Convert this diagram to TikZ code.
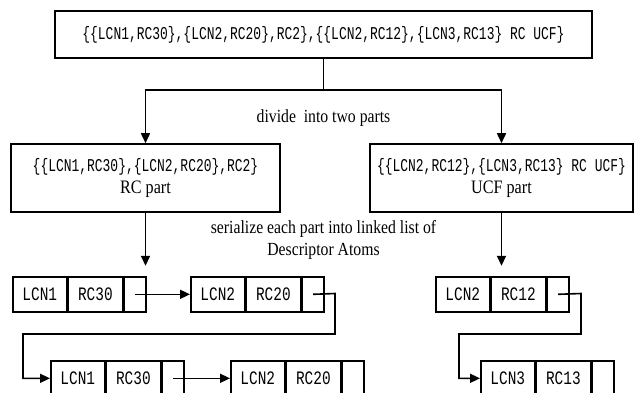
\documentclass[tikz,border=0pt]{standalone}
\usepackage{fontspec}
\setmainfont{Liberation Serif}
\newfontfamily\codefont[FakeStretch=0.72]{Liberation Mono}
\newfontfamily\cellfont[FakeStretch=0.76]{Liberation Mono}
\newfontfamily\prosefont[FakeStretch=0.85]{Liberation Serif}
\usetikzlibrary{arrows.meta}

\tikzset{
  frame/.style={draw, line width=1.6pt, fill=white, inner sep=0pt},
  setbox/.style={frame, align=center},
  cell/.style={frame, minimum height=35pt, anchor=north west,
               font=\cellfont\fontsize{19}{21}\selectfont},
  conn/.style={line width=1.6pt},
  arr/.style={conn, -{Triangle[length=10pt,width=9pt]}},
  prose/.style={font=\prosefont\fontsize{18.5}{22}\selectfont, align=center},
}

% one descriptor atom: two data cells followed by a pointer cell
\newcommand\atom[5]{%
  \node[cell, minimum width=54pt] (#1a) at (#2,#3) {#4};
  \node[cell, minimum width=54pt] (#1b) at (#1a.north east) {#5};
  \node[cell, minimum width=22pt] (#1c) at (#1b.north east) {};
}

\begin{document}
\begin{tikzpicture}[x=1pt, y=-1pt]
  \useasboundingbox (0,0) rectangle (634,392);

  % whole descriptor set
  \node[setbox, minimum width=537pt, minimum height=47pt,
        font=\codefont\fontsize{18}{20}\selectfont] (T) at (323.5,34.5)
    {\{\{LCN1,RC30\},\{LCN2,RC20\},RC2\},\{\{LCN2,RC12\},\{LCN3,RC13\} RC UCF\}};

  % the two parts
  \node[setbox, minimum width=269pt, minimum height=68pt] (L) at (145.5,178)
    {{\codefont\fontsize{18}{20}\selectfont \{\{LCN1,RC30\},\{LCN2,RC20\},RC2\}}\\[5pt]
     {\prosefont\fontsize{19}{21}\selectfont RC part}};
  \node[setbox, minimum width=263pt, minimum height=68pt] (R) at (501.5,178)
    {{\codefont\fontsize{18}{20}\selectfont \{\{LCN2,RC12\},\{LCN3,RC13\} RC UCF\}}\\[5pt]
     {\prosefont\fontsize{19}{21}\selectfont UCF part}};

  % split arrows
  \draw[conn] (T.south) -- (T.south |- 0,90) coordinate (split);
  \draw[arr] (split) -| (L.north);
  \draw[arr] (split) -| (R.north);
  \node[prose] (divide) at (323.5,118) {divide\ \ into two parts};

  % serialization arrows
  \draw[arr] (L.south) -- ++(0,53) coordinate (lend);
  \draw[arr] (R.south) -- ++(0,53) coordinate (rend);
  \node[prose] (serial) at (323.5,240)
    {serialize each part into linked list of\\Descriptor Atoms};

  % linked lists of descriptor atoms
  \atom{p}{12}{276}{LCN1}{RC30}
  \atom{q}{190}{276}{LCN2}{RC20}
  \atom{u}{435}{276}{LCN2}{RC12}
  \atom{s}{50}{360}{LCN1}{RC30}
  \atom{t}{230}{360}{LCN2}{RC20}
  \atom{v}{480}{360}{LCN3}{RC13}

  \draw[arr] (pc.center) -- (qa.west);
  \draw[arr] (qc.center) -- (335,293.5) -- (335,334) -- (23,334) |- (sa.west);
  \draw[arr] (sc.center) -- (ta.west);
  \draw[arr] (uc.center) -- (581,293.5) -- (581,334) -- (459,334) |- (va.west);
\end{tikzpicture}
\end{document}
